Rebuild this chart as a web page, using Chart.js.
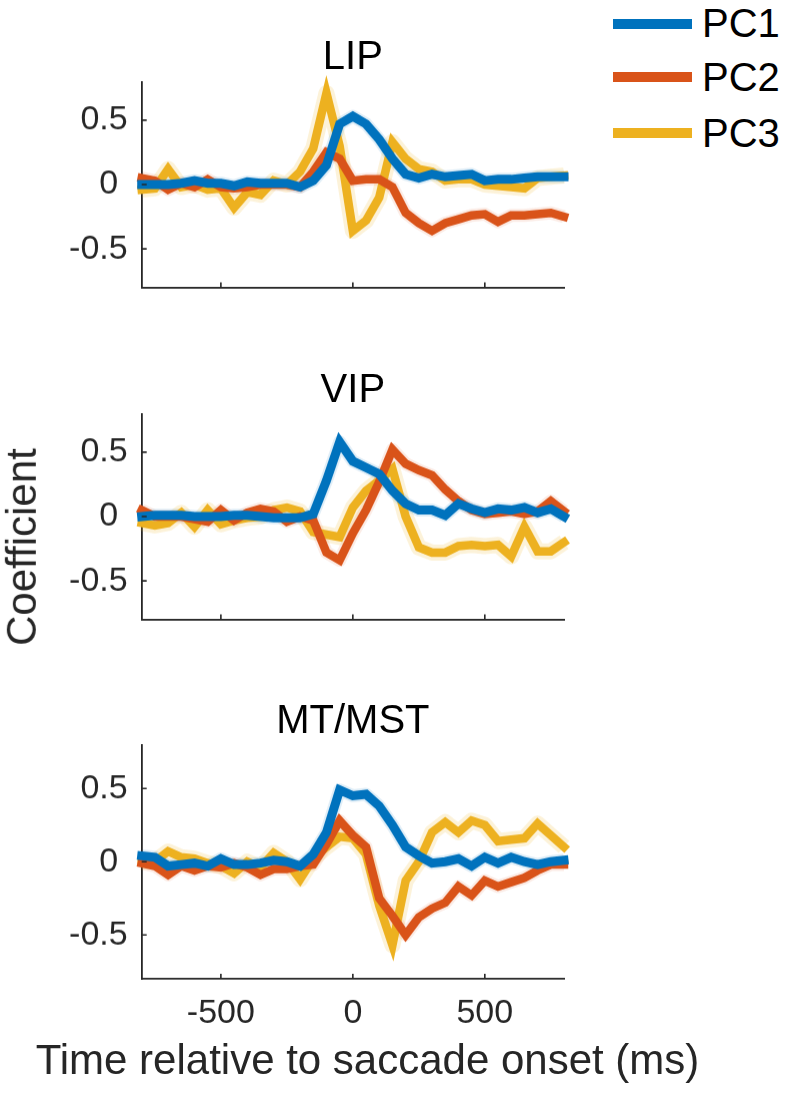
<!DOCTYPE html>
<html>
<head>
<meta charset="utf-8">
<script src="https://cdn.jsdelivr.net/npm/chart.js@4.4.1/dist/chart.umd.min.js"></script>
<style>
  html, body { margin: 0; padding: 0; background: #fff; }
  body { width: 787px; height: 1093px; position: relative; overflow: hidden;
         font-family: "Liberation Sans", Arial, sans-serif; }
  .box { position: absolute; left: 0; width: 600px; }
  .txt { position: absolute; white-space: nowrap; line-height: 1; color: #000; }
  .leg-line { position: absolute; height: 10px; }
</style>
</head>
<body>
<div class="box" id="b0"><canvas id="c0"></canvas></div>
<div class="box" id="b1"><canvas id="c1"></canvas></div>
<div class="box" id="b2"><canvas id="c2"></canvas></div>

<div class="txt" id="t0" style="font-size:40px;">LIP</div>
<div class="txt" id="t1" style="font-size:40px;">VIP</div>
<div class="txt" id="t2" style="font-size:40px;">MT/MST</div>
<div class="txt" id="xl" style="font-size:42px;color:#262626;">Time relative to saccade onset (ms)</div>
<div class="txt" id="yl" style="font-size:42px;color:#262626;">Coefficient</div>

<div class="leg-line" style="left:613px;top:19px;width:79px;background:#0072BD;"></div>
<div class="leg-line" style="left:613px;top:72px;width:79px;background:#D95319;"></div>
<div class="leg-line" style="left:613px;top:128px;width:79px;background:#EDB120;"></div>
<div class="txt" id="l0" style="font-size:40px;">PC1</div>
<div class="txt" id="l1" style="font-size:40px;">PC2</div>
<div class="txt" id="l2" style="font-size:40px;">PC3</div>

<script>
// ---------------- data ----------------
const timeMs = [-800,-750,-700,-650,-600,-550,-500,-450,-400,-350,-300,-250,-200,-150,-100,-50,
                0,50,100,150,200,250,300,350,400,450,500,550,600,650,700,750,800];

const panelTitles = ["LIP", "VIP", "MT/MST"];
const seriesNames = ["PC1", "PC2", "PC3"];
const xTickValues = [-500, 0, 500];
const yTickValues = [-0.5, 0, 0.5];

// LIP
const lipPC1 = [0.00,0.00,0.00,0.01,0.03,0.01,0.01,-0.01,0.02,0.01,0.01,0.01,-0.02,0.03,0.15,0.47,
                0.53,0.47,0.35,0.20,0.08,0.05,0.08,0.06,0.07,0.08,0.03,0.04,0.04,0.05,0.06,0.06,0.06];
const lipPC2 = [0.05,0.03,-0.04,0.01,-0.02,0.04,-0.02,-0.03,-0.02,0.00,0.00,0.00,-0.02,0.10,0.25,0.20,
                0.03,0.04,0.04,-0.02,-0.22,-0.30,-0.36,-0.30,-0.27,-0.24,-0.23,-0.29,-0.24,-0.24,-0.23,-0.22,-0.25];
const lipPC3 = [-0.04,-0.03,0.12,-0.02,0.00,-0.04,-0.03,-0.18,-0.06,-0.08,0.03,0.00,0.10,0.28,0.71,0.30,
                -0.36,-0.28,-0.10,0.33,0.20,0.12,0.10,0.03,0.04,0.04,0.00,-0.01,-0.02,-0.03,0.05,0.06,0.07];
// VIP
const vipPC1 = [0.00,0.01,0.01,0.01,0.00,0.00,0.00,0.01,0.01,0.00,-0.01,-0.01,-0.01,0.02,0.28,0.58,
                0.43,0.38,0.33,0.20,0.10,0.05,0.05,0.01,0.10,0.06,0.03,0.06,0.05,0.07,0.03,0.06,0.00];
const vipPC2 = [0.05,0.00,0.00,0.00,-0.02,-0.04,0.05,-0.03,0.03,0.06,0.04,-0.04,0.00,-0.03,-0.28,-0.34,
                -0.13,0.05,0.27,0.52,0.41,0.36,0.32,0.21,0.12,0.05,0.02,0.03,0.04,0.02,0.04,0.12,0.04];
const vipPC3 = [-0.05,-0.07,-0.05,0.03,-0.08,0.05,-0.06,-0.03,-0.01,0.00,0.05,0.07,0.04,-0.12,-0.14,-0.16,
                0.07,0.20,0.28,0.37,0.00,-0.24,-0.28,-0.28,-0.23,-0.22,-0.23,-0.22,-0.31,-0.08,-0.27,-0.27,-0.20];
// MT/MST
const mtPC1 = [0.04,0.03,-0.03,-0.02,-0.01,-0.03,0.02,-0.02,-0.02,-0.01,0.01,0.00,-0.03,0.05,0.20,0.49,
               0.45,0.46,0.38,0.25,0.10,0.04,-0.01,0.00,0.02,-0.03,0.03,-0.01,0.03,0.00,-0.02,0.00,0.01];
const mtPC2 = [-0.01,-0.03,-0.09,-0.03,-0.06,-0.03,-0.04,-0.01,-0.04,-0.09,-0.05,-0.05,-0.03,-0.02,0.12,0.28,
               0.18,0.10,-0.25,-0.37,-0.50,-0.38,-0.32,-0.28,-0.17,-0.23,-0.13,-0.17,-0.14,-0.11,-0.06,-0.02,-0.02];
const mtPC3 = [0.00,0.00,0.07,0.03,0.02,-0.01,-0.03,-0.08,0.00,-0.04,0.06,0.00,-0.12,0.02,0.10,0.17,
               0.16,0.05,-0.30,-0.57,-0.13,0.00,0.20,0.27,0.20,0.28,0.25,0.14,0.15,0.16,0.26,0.18,0.10];

const panelSeries = [[lipPC1, lipPC2, lipPC3], [vipPC1, vipPC2, vipPC3], [mtPC1, mtPC2, mtPC3]];

// ---------------- style ----------------
const colors = ["#0072BD", "#D95319", "#EDB120"];
const halo   = ["rgba(0,114,189,0.12)", "rgba(217,83,25,0.11)", "rgba(237,177,32,0.17)"];
const axisColor = "#262626";
const panelTops = [77, 409, 740];
const plotH = 238.5;
const plotLeft = 141.7, plotRight = 564, boxW = 600;
const padTop = 30;

const inwardTicks = {
  id: "inwardTicks",
  afterDraw(chart) {
    const {ctx, chartArea: a, scales: {x, y}} = chart;
    ctx.save();
    ctx.strokeStyle = axisColor;
    ctx.lineWidth = 1.6;
    ctx.beginPath();
    xTickValues.forEach(v => { const px = x.getPixelForValue(v); ctx.moveTo(px, a.bottom); ctx.lineTo(px, a.bottom - 5); });
    yTickValues.forEach(v => { const py = y.getPixelForValue(v); ctx.moveTo(a.left, py); ctx.lineTo(a.left + 5, py); });
    ctx.stroke();
    ctx.restore();
  }
};

function toXY(arr) { return timeMs.map((t, i) => ({x: t, y: arr[i]})); }

panelSeries.forEach((series, k) => {
  const showX = k === 2;
  const hx = showX ? 75 : 6;
  const box = document.getElementById("b" + k);
  box.style.top = (panelTops[k] - padTop) + "px";
  const H = padTop + plotH + hx;
  box.style.height = H + "px";
  const cv = document.getElementById("c" + k);
  cv.width = boxW; cv.height = H;
  cv.style.width = boxW + "px"; cv.style.height = H + "px";

  const datasets = [];
  series.forEach((arr, j) => {
    datasets.push({label: seriesNames[j], data: toXY(arr), borderColor: colors[j], borderWidth: j === 0 ? 9 : 8.5,
      pointRadius: 0, tension: 0, borderJoinStyle: "miter", borderCapStyle: "square", clip: false, order: 1 + j});
  });
  series.forEach((arr, j) => {
    datasets.push({label: seriesNames[j] + " band", data: toXY(arr), borderColor: halo[j], borderWidth: j === 2 ? 16 : 13,
      pointRadius: 0, tension: 0, borderJoinStyle: "round", borderCapStyle: "butt", clip: false, order: 10 + j});
  });

  new Chart(cv, {
    type: "line",
    data: {datasets},
    plugins: [inwardTicks],
    options: {
      responsive: false, animation: false, devicePixelRatio: 1,
      layout: {padding: {top: padTop, right: boxW - plotRight, left: 0, bottom: 0}},
      plugins: {legend: {display: false}, tooltip: {enabled: false}, title: {display: false}},
      scales: {
        x: {
          type: "linear", min: -800, max: 800,
          afterBuildTicks: s => { s.ticks = xTickValues.map(v => ({value: v})); },
          afterFit: s => { s.height = hx; },
          grid: {display: false, drawTicks: false},
          border: {display: true, color: axisColor, width: 1.8},
          ticks: {display: showX, color: axisColor, padding: 14, maxRotation: 0, autoSkip: false,
                  font: {family: "'Liberation Sans', Arial, sans-serif", size: 34},
                  callback: v => String(v)}
        },
        y: {
          min: -0.8, max: 0.8,
          afterBuildTicks: s => { s.ticks = yTickValues.map(v => ({value: v})); },
          afterFit: s => { s.width = plotLeft; },
          grid: {display: false, drawTicks: false},
          border: {display: true, color: axisColor, width: 1.8},
          ticks: {color: axisColor, padding: 14,
                  font: {family: "'Liberation Sans', Arial, sans-serif", size: 34},
                  callback: v => (v === 0 ? "0 " : String(v))}
        }
      }
    }
  });
});

// ---------------- text placement (by baseline) ----------------
function placeBaseline(id, cx, baseline, size, anchor) {
  const el = document.getElementById(id);
  const w = el.getBoundingClientRect().width;
  // Liberation Sans: ascent 0.905, descent 0.212, line-height 1
  const top = baseline - ((size - 1.117 * size) / 2 + 0.905 * size);
  el.style.top = top + "px";
  el.style.left = (anchor === "left" ? cx : cx - w / 2) + "px";
}
const midX = (plotLeft + plotRight) / 2;
placeBaseline("t0", midX, 69, 40);
placeBaseline("t1", midX, 402, 40);
placeBaseline("t2", midX, 733, 40);
placeBaseline("xl", 367.5, 1075, 42);
placeBaseline("l0", 702, 37, 40, "left");
placeBaseline("l1", 702, 91, 40, "left");
placeBaseline("l2", 702, 147, 40, "left");
(function () {
  const el = document.getElementById("yl");
  const r = el.getBoundingClientRect();
  el.style.transformOrigin = "center center";
  el.style.left = (22 - r.width / 2) + "px";
  el.style.top = (547 - r.height / 2) + "px";
  el.style.transform = "rotate(-90deg)";
})();
</script>
</body>
</html>
